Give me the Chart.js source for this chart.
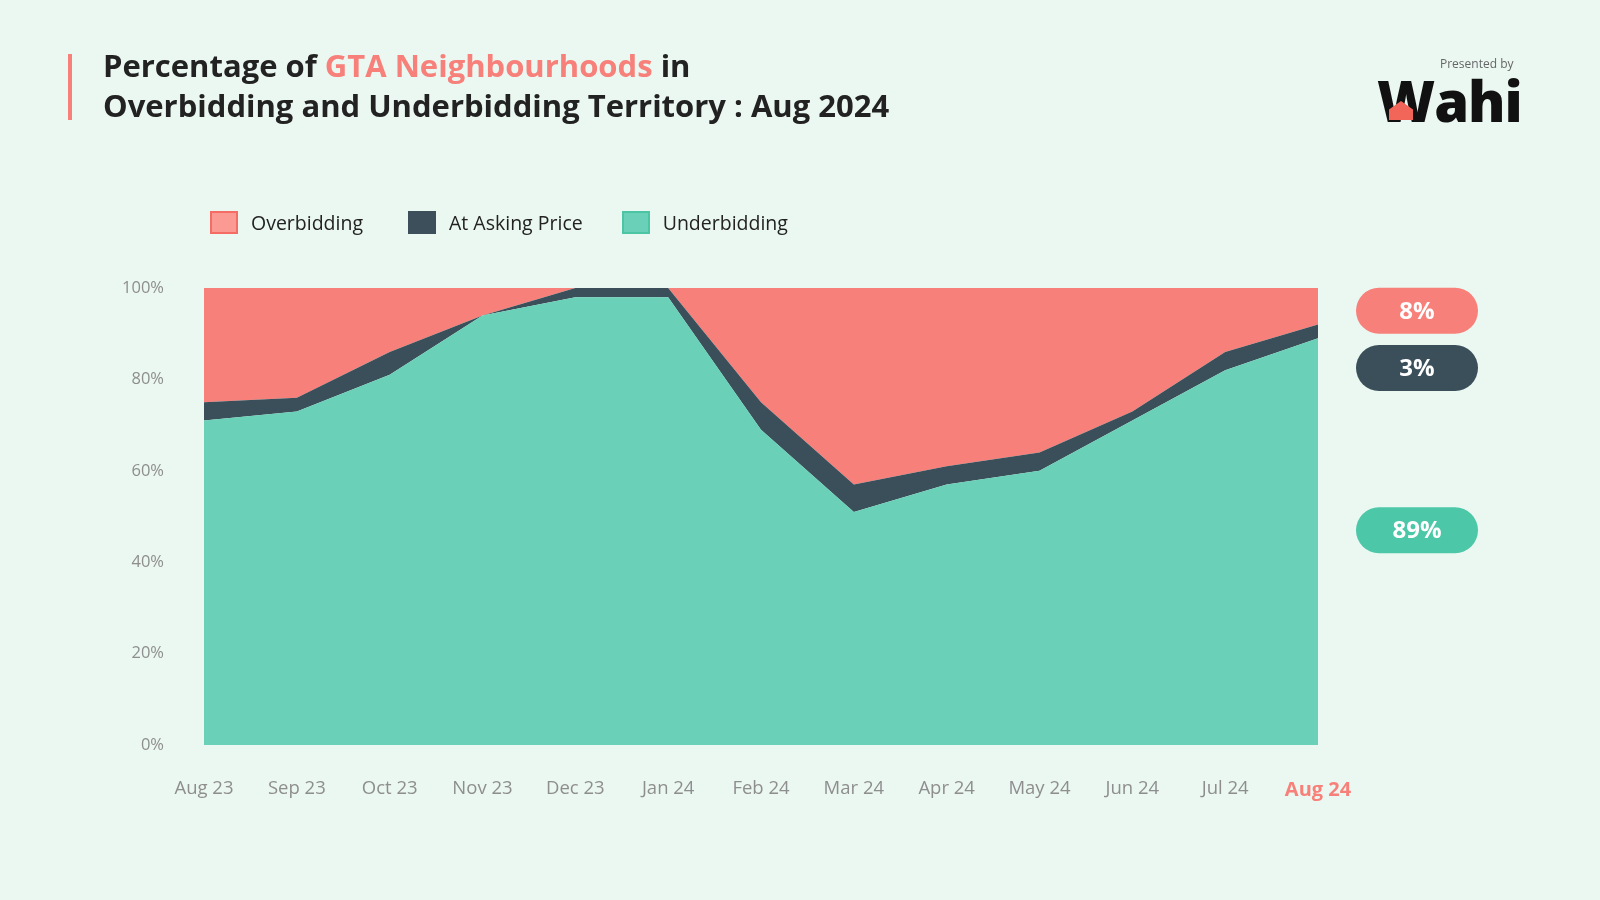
<!DOCTYPE html>
<html>
<head>
<meta charset="utf-8">
<script src="https://cdn.jsdelivr.net/npm/chart.js@4.4.1/dist/chart.umd.min.js"></script>
<style>
  html, body { margin: 0; padding: 0; }
  body {
    width: 1600px; height: 900px; position: relative; overflow: hidden;
    background: #ebf8f1; font-family: "Open Sans", sans-serif;
  }
  #wrap { position: absolute; left: 0; top: 0; width: 1600px; height: 900px; }
  .bar { position: absolute; left: 68px; top: 54px; width: 4px; height: 66px; background: #f7807a; }
  .title {
    position: absolute; left: 103px; top: 45px; margin: 0;
    font-size: 31px; line-height: 40px; font-weight: 700; color: #222;
  }
  .title span { color: #f7807a; }
  .presented { position: absolute; left: 1440px; top: 55px; font-size: 12px; color: #666; }
  .logo {
    position: absolute; left: 1377px; top: 62px; font-size: 56px; font-weight: 800;
    color: #111; letter-spacing: -1px; font-family: "Open Sans", sans-serif;
  }
  .house {
    position: absolute; left: 1389px; top: 101px; width: 24px; height: 19px; background: #f26559;
    clip-path: polygon(50% 0, 100% 45%, 100% 100%, 0 100%, 0 45%);
  }
  #legend { position: absolute; top: 209px; left: 210px; display: flex; font-size: 19.5px; color: #222; }
  #legend .item { display: flex; align-items: center; margin-right: 45px; }
  #legend .item:nth-child(2) { margin-right: 39px; }
  #legend .sw { width: 24px; height: 19px; border: 2px solid; margin-right: 13px; }
</style>
</head>
<body>
<div id="wrap"><canvas id="chart"></canvas></div>
<div class="bar"></div>
<h1 class="title">Percentage of <span>GTA Neighbourhoods</span> in<br>Overbidding and Underbidding Territory : Aug 2024</h1>
<div class="presented">Presented by</div>
<div class="logo">Wahi</div>
<div class="house"></div>
<div id="legend"></div>

<script>
// Dữ liệu biểu đồ
const months = ["Aug 23", "Sep 23", "Oct 23", "Nov 23", "Dec 23", "Jan 24", "Feb 24",
  "Mar 24", "Apr 24", "May 24", "Jun 24", "Jul 24", "Aug 24"];
const underbidding = [71, 73, 81, 94, 98, 98, 69, 51, 57, 60, 71, 82, 89];
const atAsking = [4, 3, 5, 0, 2, 2, 6, 6, 4, 4, 2, 4, 3];
const overbidding = [25, 24, 14, 6, 0, 0, 25, 43, 39, 36, 27, 14, 8];
const yTicks = [0, 20, 40, 60, 80, 100];

const series = [
  { label: "Overbidding", data: overbidding, fill: "#f7807a", swatch: "#fa9a92", edge: "#f46c63", pill: "#f7807a" },
  { label: "At Asking Price", data: atAsking, fill: "#3a4f5a", swatch: "#3c4f5b", edge: "#3c4f5b", pill: "#3a4f5a" },
  { label: "Underbidding", data: underbidding, fill: "#6ad0b8", swatch: "#6ad0b8", edge: "#4cc5a5", pill: "#4cc7a8" },
];

// Legend dạng HTML
const legendEl = document.getElementById("legend");
series.forEach((s) => {
  const item = document.createElement("div");
  item.className = "item";
  item.innerHTML = `<div class="sw" style="background:${s.swatch};border-color:${s.edge}"></div>${s.label}`;
  legendEl.appendChild(item);
});

// Nhãn % ở bên phải cho tháng cuối
const pillPlugin = {
  id: "pills",
  afterDraw(chart) {
    const { ctx, chartArea, scales } = chart;
    const anchors = [95, 82.5, 47];
    const last = months.length - 1;
    series.forEach((s, i) => {
      const cy = scales.y.getPixelForValue(anchors[i]);
      const x = chartArea.right + 38, w = 122, h = 46, r = 23;
      ctx.save();
      ctx.fillStyle = s.pill;
      ctx.beginPath();
      ctx.roundRect(x, cy - h / 2, w, h, r);
      ctx.fill();
      ctx.fillStyle = "#fff";
      ctx.font = "bold 24px 'Open Sans', sans-serif";
      ctx.textAlign = "center";
      ctx.textBaseline = "middle";
      ctx.fillText(s.data[last] + "%", x + w / 2, cy + 1);
      ctx.restore();
    });
  },
};

const ctx = document.getElementById("chart").getContext("2d");
new Chart(ctx, {
  type: "line",
  data: {
    labels: months,
    datasets: [
      { label: "Underbidding", data: underbidding, backgroundColor: series[2].fill, fill: "origin" },
      { label: "At Asking Price", data: atAsking, backgroundColor: series[1].fill, fill: "-1" },
      { label: "Overbidding", data: overbidding, backgroundColor: series[0].fill, fill: "-1" },
    ].map((d) => ({ ...d, borderWidth: 0, pointRadius: 0, tension: 0 })),
  },
  options: {
    responsive: true,
    maintainAspectRatio: false,
    animation: false,
    layout: { padding: { left: 104, top: 288, right: 282, bottom: 95 } },
    plugins: { legend: { display: false }, tooltip: { enabled: false } },
    scales: {
      x: {
        grid: { display: false },
        border: { display: false },
        afterFit: (scale) => { scale.height = 60; },
        ticks: {
          padding: 25,
          maxRotation: 0,
          autoSkip: false,
          color: (c) => (c.index === months.length - 1 ? "#f7807a" : "#8e8e8e"),
          font: (c) => c.index === months.length - 1
            ? { family: "'Open Sans', sans-serif", size: 20, weight: "bold" }
            : { family: "'Open Sans', sans-serif", size: 18.5 },
        },
      },
      y: {
        stacked: true,
        min: 0,
        max: 100,
        grid: { display: false },
        border: { display: false },
        afterFit: (scale) => { scale.width = 100; },
        afterBuildTicks: (scale) => { scale.ticks = yTicks.map((v) => ({ value: v })); },
        ticks: {
          padding: 32,
          color: "#8e8e8e",
          font: { family: "'Open Sans', sans-serif", size: 16.5 },
          callback: (v) => v + "%",
        },
      },
    },
  },
  plugins: [pillPlugin],
});
</script>
</body>
</html>
